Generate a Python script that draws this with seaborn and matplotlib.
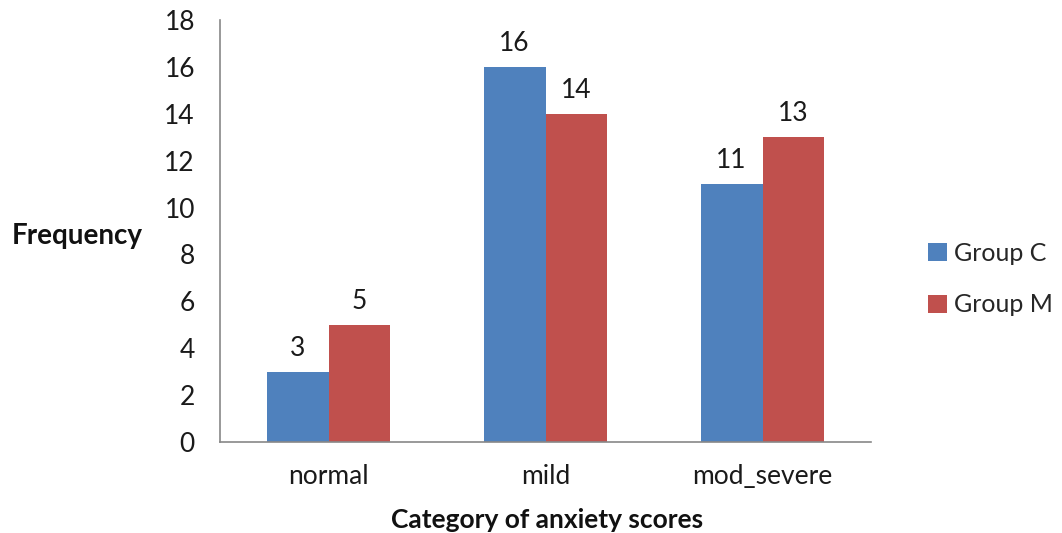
import matplotlib
matplotlib.use("Agg")
import matplotlib.pyplot as plt
import seaborn as sns
import pandas as pd
from matplotlib.patches import Patch

categories = ["normal", "mild", "mod_severe"]
groups = ["Group C", "Group M"]
group_c = [3, 16, 11]
group_m = [5, 14, 13]
colors = ["#4F81BD", "#C0504D"]

df = pd.DataFrame({
    "category": categories * 2,
    "group": [groups[0]] * 3 + [groups[1]] * 3,
    "value": group_c + group_m,
})

sns.set_style("white")
plt.rcParams["font.family"] = ["Lato", "DejaVu Sans"]

FS = 19

fig = plt.figure(figsize=(10.62, 5.33), dpi=100)
ax = fig.add_axes([220 / 1062, 1 - 442 / 533, (871 - 220) / 1062, (442 - 20) / 533])

sns.barplot(data=df, x="category", y="value", hue="group", order=categories,
            hue_order=groups, palette=colors, width=0.57, gap=0, saturation=1,
            edgecolor="none", linewidth=0, ax=ax, legend=False)

for cont in ax.containers:
    ax.bar_label(cont, fmt="%d", padding=8, fontsize=FS, color="#1a1a1a")

ax.set_ylim(0, 18)
ax.set_yticks(range(0, 19, 2))
ax.set_xlim(-0.5, 2.5)
ax.set_xticks(range(len(categories)))
ax.set_xticklabels(categories)
ax.set_xticks([-0.5, 0.5, 1.5, 2.5], minor=True)
ax.tick_params(axis="x", which="major", length=0, pad=16, labelsize=FS, labelcolor="#1a1a1a")
ax.tick_params(axis="x", which="minor", length=10, width=1.2, color="#888888", direction="out")
ax.tick_params(axis="y", length=10, width=1.2, color="#888888", direction="out",
               pad=8, labelsize=FS, labelcolor="#1a1a1a")

for s in ["top", "right"]:
    ax.spines[s].set_visible(False)
for s in ["left", "bottom"]:
    ax.spines[s].set_color("#888888")
    ax.spines[s].set_linewidth(1.2)

ax.set_ylabel("")
ax.set_xlabel("")
fig.text(547 / 1062, 1 - 520 / 533, "Category of anxiety scores", fontsize=FS,
         fontweight="bold", ha="center", va="center", color="#111111")
fig.text(12 / 1062, 1 - 236 / 533, "Frequency", fontsize=20, fontweight="bold",
         va="center", ha="left", color="#111111")

handles = [Patch(facecolor=c, edgecolor="none") for c in colors]
fig.legend(handles, groups, loc="center left", bbox_to_anchor=(918 / 1062, 1 - 279 / 533),
           frameon=False, fontsize=18, handlelength=0.75, handleheight=0.75,
           handletextpad=0.3, labelspacing=1.15, borderaxespad=0)

fig.savefig("out.png", dpi=100)
